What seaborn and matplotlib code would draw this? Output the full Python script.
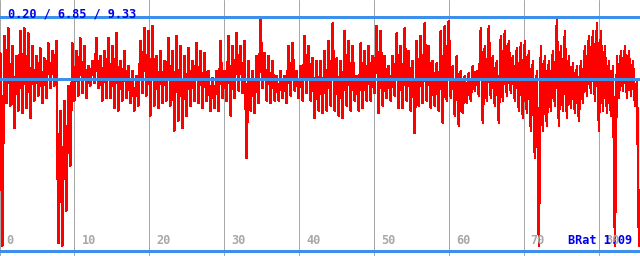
import numpy as np
import pandas as pd
import matplotlib
matplotlib.use("Agg")
import matplotlib.pyplot as plt
import matplotlib.transforms as mtransforms
import seaborn as sns

# ---- data (upper / lower envelope per ~4 px slice) ----
highs = [7.9, 8.6, 8.9, 8.2, 7.8, 8.8, 8.9, 8.7, 8.2, 7.8,
         8.1, 7.7, 8.3, 8.0, 8.4, 5.6, 6.0, 6.6, 8.3, 8.0,
         8.5, 8.2, 7.4, 7.6, 8.5, 7.8, 8.0, 8.5, 8.2, 8.7,
         7.6, 8.0, 7.4, 7.2, 7.0, 8.4, 8.9, 8.8, 9.0, 7.8,
         8.0, 7.6, 8.5, 8.0, 8.6, 8.2, 7.8, 8.1, 7.6, 8.3,
         8.0, 7.9, 7.2, 6.9, 7.2, 8.4, 7.2, 8.6, 8.2, 8.7,
         8.2, 8.4, 7.6, 7.2, 7.8, 9.33, 7.9, 7.8, 7.6, 7.0,
         7.2, 7.0, 8.2, 8.3, 7.2, 7.4, 8.6, 8.2, 7.7, 7.6,
         7.6, 8.0, 8.4, 9.1, 7.7, 7.6, 8.8, 8.4, 8.2, 7.0,
         8.3, 8.0, 8.2, 7.8, 9.0, 8.8, 7.8, 7.4, 7.8, 8.7,
         8.2, 8.9, 8.0, 7.6, 8.4, 8.6, 9.1, 8.2, 7.6, 7.5,
         8.8, 9.0, 9.2, 7.4, 7.8, 7.2, 7.0, 7.1, 7.4, 7.2,
         8.9, 8.2, 9.0, 7.8, 7.6, 8.6, 8.8, 8.4, 7.8, 8.1,
         8.3, 8.4, 8.0, 7.6, 7.2, 8.2, 7.8, 7.6, 8.0, 9.25,
         8.2, 8.8, 7.8, 7.5, 7.4, 7.6, 8.2, 8.6, 8.8, 9.1,
         8.8, 8.2, 7.6, 7.4, 7.8, 8.0, 8.2, 8.0, 7.6, 6.8]
lows = [0.2, 5.9, 5.8, 4.9, 5.6, 5.5, 5.7, 5.3, 6.0, 6.2,
        5.9, 6.1, 6.5, 6.6, 0.3, 0.2, 1.6, 3.4, 6.0, 6.2,
        6.3, 6.1, 6.6, 6.7, 6.5, 6.0, 6.1, 6.1, 5.7, 5.6,
        6.0, 6.1, 5.9, 5.6, 5.8, 6.3, 6.2, 5.4, 5.8, 5.7,
        5.9, 6.0, 5.8, 4.8, 5.2, 4.9, 5.4, 5.8, 6.0, 5.9,
        5.7, 6.0, 5.6, 5.7, 5.6, 6.1, 6.0, 5.4, 6.1, 6.4,
        6.3, 3.7, 5.6, 5.5, 5.9, 6.5, 6.0, 5.9, 6.0, 6.0,
        6.1, 5.9, 6.2, 6.4, 6.1, 6.0, 6.3, 6.0, 5.3, 5.6,
        5.5, 5.6, 5.8, 5.6, 5.4, 5.3, 5.8, 5.6, 6.0, 5.6,
        5.7, 6.0, 6.0, 6.3, 5.5, 5.8, 6.1, 6.0, 6.2, 5.7,
        5.7, 6.0, 5.6, 4.7, 5.8, 5.9, 6.0, 5.7, 5.8, 5.6,
        5.1, 6.0, 6.1, 5.4, 5.0, 5.5, 5.9, 6.0, 6.4, 6.2,
        5.1, 6.0, 6.1, 5.8, 5.1, 6.0, 6.2, 6.3, 6.0, 5.6,
        5.3, 5.5, 4.8, 3.7, 0.2, 4.8, 5.0, 5.6, 5.8, 5.0,
        5.6, 5.3, 5.7, 5.5, 5.2, 5.9, 6.2, 6.3, 6.0, 4.8,
        5.6, 5.5, 5.4, 0.2, 6.1, 6.4, 6.1, 6.2, 5.8, 0.2]

stat_min, stat_avg, stat_max = 0.20, 6.85, 9.33
stat_label = "0.20 / 6.85 / 9.33"
corner_label = "BRat 1.09"
xticks = [0, 10, 20, 30, 40, 50, 60, 70, 80]
xtick_labels = ["0", "10", "20", "30", "40", "50", "60", "70", "80"]

# interleave envelopes into one sampled series
values = np.empty(2 * len(highs))
values[0::2] = highs
values[1::2] = lows
t = np.linspace(0.09, 85.4, len(values))
df = pd.DataFrame({"t": t, "v": values})

sns.set_style("white")
plt.rcParams["font.family"] = ["DejaVu Sans Mono", "DejaVu Sans"]

fig = plt.figure(figsize=(6.4, 2.56), dpi=100)
ax = fig.add_axes([0, 0, 1, 1])
ax.set_facecolor("white")

# vertical gray grid
for xt in xticks:
    ax.axvline(xt, color="#a8a8a8", lw=0.72, zorder=1, snap=True)

sns.lineplot(data=df, x="t", y="v", ax=ax, color="#ff0000", lw=1.05,
             zorder=2, antialiased=False)

# horizontal blue reference lines: zero, average, maximum
for yv in (0.0, stat_avg, stat_max):
    ax.axhline(yv, color="#3d8fec", lw=0.85, zorder=3, antialiased=False)

ax.set_xlim(0.05, 85.54)
ax.set_ylim(-0.22, 10.03)
for s in ax.spines.values():
    s.set_visible(False)
ax.set_xticks([])
ax.set_yticks([])
ax.set_xlabel("")
ax.set_ylabel("")

# tick labels inside the plot, right of each grid line
trans = mtransforms.blended_transform_factory(ax.transData, ax.transAxes)
trans = mtransforms.offset_copy(trans, fig=fig, x=7, y=0, units="dots")
for xt, lab in zip(xticks, xtick_labels):
    ax.text(xt, 1 - 241 / 256, lab, transform=trans, ha="left", va="center",
            color="#a8a8a8", fontsize=8.6, fontweight="bold", zorder=4)

ax.text(8 / 640, 1 - 14 / 256, stat_label, transform=ax.transAxes,
        ha="left", va="center", color="#0000ee", fontsize=8.6,
        fontweight="bold", zorder=5)
ax.text(632 / 640, 1 - 241 / 256, corner_label, transform=ax.transAxes,
        ha="right", va="center", color="#0000ee", fontsize=8.6,
        fontweight="bold", zorder=5)

fig.savefig("out.png", dpi=100, facecolor="white")
